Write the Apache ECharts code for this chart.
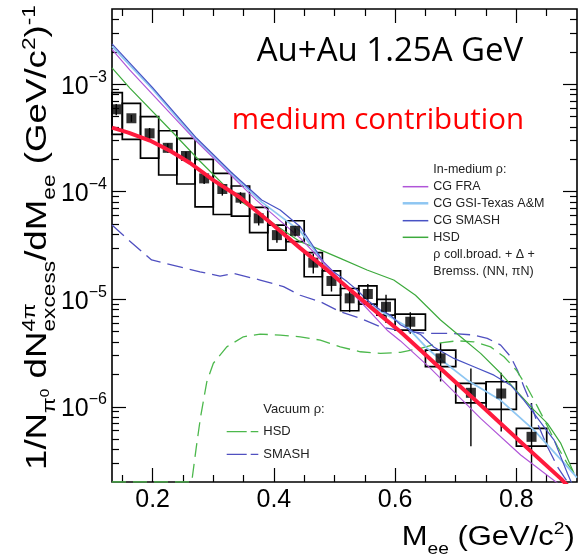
<!DOCTYPE html>
<html>
<head>
<meta charset="utf-8">
<script src="https://cdn.jsdelivr.net/npm/echarts@6/dist/echarts.min.js"></script>
<style>
  html, body { margin: 0; padding: 0; background: #fff; }
  #chart { width: 579px; height: 557px; }
</style>
</head>
<body>
<div id="chart"></div>
<script>
// ---------- measured excess spectrum ----------
const binLow   = [0.13, 0.15, 0.18, 0.21, 0.24, 0.27, 0.30, 0.33, 0.36, 0.39, 0.42, 0.45, 0.48, 0.51, 0.54, 0.57, 0.60, 0.65, 0.70, 0.75, 0.80];
const binHigh  = [0.15, 0.18, 0.21, 0.24, 0.27, 0.30, 0.33, 0.36, 0.39, 0.42, 0.45, 0.48, 0.51, 0.54, 0.57, 0.60, 0.65, 0.70, 0.75, 0.80, 0.85];
const yieldVal = [5.84e-4, 4.82e-4, 3.49e-4, 2.56e-4, 2.15e-4, 1.33e-4, 1.06e-4, 8.8e-5, 5.66e-5, 3.95e-5, 4.33e-5, 2.19e-5, 1.48e-5, 1.02e-5, 1.12e-5, 8.51e-6, 6.18e-6, 2.82e-6, 1.35e-6, 1.33e-6, 5.26e-7];
const statErr  = [7.0e-5, 3.5e-5, 4.2e-5, 2.5e-5, 2.0e-5, 1.5e-5, 1.4e-5, 1.1e-5, 8.0e-6, 6.0e-6, 5.0e-6, 4.5e-6, 3.0e-6, 2.6e-6, 2.7e-6, 2.5e-6, 1.4e-6, 1.1e-6, 9.2e-7, 7.4e-7, 5.6e-7];
const sysLow   = [3.42e-4, 3.07e-4, 2.05e-4, 1.43e-4, 1.18e-4, 7.24e-5, 6.14e-5, 5.94e-5, 4.16e-5, 2.87e-5, 3.43e-5, 1.62e-5, 1.09e-5, 7.82e-6, 9.02e-6, 7.13e-6, 5.16e-6, 2.36e-6, 1.09e-6, 9.46e-7, 4.31e-7];
const sysHigh  = [8.33e-4, 6.64e-4, 4.99e-4, 3.69e-4, 3.14e-4, 2.0e-4, 1.48e-4, 1.13e-4, 7.16e-5, 4.9e-5, 5.37e-5, 2.71e-5, 1.84e-5, 1.26e-5, 1.33e-5, 9.97e-6, 7.28e-6, 3.37e-6, 1.65e-6, 1.71e-6, 6.3e-7];

// ---------- model curves ----------
const mediumMass  = [0.133, 0.16, 0.1955, 0.23, 0.2617, 0.30, 0.3443, 0.39, 0.4435, 0.4850, 0.5261, 0.5670, 0.6088, 0.6749, 0.741, 0.8071, 0.8733, 0.90];
const mediumYield = [3.94e-4, 3.55e-4, 2.99e-4, 2.38e-4, 1.85e-4, 1.28e-4, 8.83e-5, 5.4e-5, 2.99e-5, 1.93e-5, 1.22e-5, 7.8e-6, 4.99e-6, 2.27e-6, 1.04e-6, 4.71e-7, 2.15e-7, 1.5e-7];

const fraMass  = [0.133, 0.1625, 0.2727, 0.3706, 0.4435, 0.5096, 0.5868, 0.6088, 0.6584, 0.741, 0.8071, 0.8733, 0.90];
const fraYield = [2.11e-3, 1.35e-3, 2.92e-4, 8.4e-5, 3.7e-5, 1.51e-5, 5.16e-6, 4.1e-6, 2.28e-6, 7.8e-7, 3.56e-7, 1.85e-7, 1.3e-7];

const gsiMass  = [0.133, 0.20, 0.2727, 0.3306, 0.38, 0.4435, 0.471, 0.4985, 0.5261, 0.5537, 0.5868, 0.6198, 0.6529, 0.6638, 0.719, 0.7741, 0.8291, 0.8843, 0.90];
const gsiYield = [2.25e-3, 9.0e-4, 3.0e-4, 1.45e-4, 8.0e-5, 4.3e-5, 2.67e-5, 1.62e-5, 1.22e-5, 9.16e-6, 7.13e-6, 5.55e-6, 3.5e-6, 3.1e-6, 1.77e-6, 1.15e-6, 6.07e-7, 2.77e-7, 2.2e-7];

const smashMass  = [0.133, 0.20, 0.2727, 0.3306, 0.38, 0.4104, 0.4435, 0.4655, 0.482, 0.4985, 0.5207, 0.5372, 0.5537, 0.5757, 0.5922, 0.6088, 0.6307, 0.6419, 0.6638, 0.6969, 0.7299, 0.763, 0.7906, 0.8126, 0.8291, 0.8456, 0.8622, 0.8843, 0.90];
const smashYield = [2.37e-3, 9.3e-4, 3.14e-4, 1.5e-4, 8.37e-5, 6.76e-5, 4.72e-5, 3.08e-5, 2.23e-5, 1.8e-5, 1.46e-5, 1.22e-5, 9.84e-6, 7.94e-6, 7.13e-6, 5.8e-6, 4.99e-6, 4.7e-6, 3.6e-6, 2.82e-6, 2.36e-6, 1.97e-6, 1.59e-6, 1.15e-6, 8.68e-7, 6.52e-7, 4.9e-7, 2.4e-7, 1.5e-7];

const hsdMass  = [0.133, 0.1625, 0.2286, 0.2782, 0.3443, 0.3774, 0.405, 0.4435, 0.471, 0.5096, 0.5537, 0.5977, 0.6336, 0.6749, 0.708, 0.741, 0.7741, 0.8017, 0.8291, 0.8512, 0.8733, 0.8952];
const hsdYield = [1.42e-3, 9.2e-4, 3.79e-4, 1.92e-4, 8.18e-5, 6.21e-5, 4.8e-5, 3.43e-5, 2.97e-5, 2.4e-5, 1.87e-5, 1.51e-5, 1.09e-5, 6.41e-6, 4.48e-6, 3.14e-6, 2.05e-6, 1.38e-6, 9.31e-7, 7.02e-7, 4.57e-7, 2.4e-7];

const vacSmashMass  = [0.133, 0.1625, 0.1983, 0.2782, 0.3112, 0.3332, 0.3774, 0.4159, 0.4435, 0.4766, 0.5096, 0.5427, 0.5757, 0.6088, 0.6529, 0.6914, 0.7299, 0.752, 0.7741, 0.7906, 0.8017, 0.8126, 0.8237, 0.8347, 0.8512, 0.8678, 0.8787, 0.90];
const vacSmashYield = [4.9e-5, 3.47e-5, 2.32e-5, 1.8e-5, 1.64e-5, 1.74e-5, 1.51e-5, 1.31e-5, 1.09e-5, 9.49e-6, 7.65e-6, 6.64e-6, 5.55e-6, 5.1e-6, 4.82e-6, 4.82e-6, 4.65e-6, 4.33e-6, 3.75e-6, 2.92e-6, 2.19e-6, 1.53e-6, 1.08e-6, 7.02e-7, 4.25e-7, 2.77e-7, 2.23e-7, 1.5e-7];

const vacHsdMass  = [0.133, 0.2645, 0.272, 0.279, 0.2893, 0.3002, 0.3223, 0.3497, 0.3774, 0.4104, 0.4435, 0.4766, 0.5096, 0.5427, 0.5757, 0.6088, 0.6419, 0.6749, 0.7025, 0.7299, 0.7575, 0.7796, 0.80, 0.8175, 0.835, 0.852, 0.868, 0.884, 0.8995];
const vacHsdYield = [0, 0, 4.2e-7, 8.0e-7, 1.7e-6, 2.54e-6, 3.61e-6, 4.48e-6, 4.74e-6, 4.65e-6, 4.48e-6, 4.17e-6, 3.61e-6, 3.25e-6, 3.14e-6, 3.21e-6, 3.5e-6, 3.94e-6, 4.11e-6, 4.02e-6, 3.61e-6, 2.92e-6, 2.19e-6, 1.53e-6, 1.0e-6, 6.5e-7, 4.25e-7, 2.97e-7, 2.23e-7];

// ---------- axes ----------
const massMin = 0.133, massMax = 0.90;
const yMin = 2e-7, yMax = 5e-3;
const xMajor = [0.2, 0.4, 0.6, 0.8];
const xMinor = [0.15, 0.25, 0.3, 0.35, 0.45, 0.5, 0.55, 0.65, 0.7, 0.75, 0.85];
const yMajor = [1e-6, 1e-5, 1e-4, 1e-3];
const yMinor = [];
for (let k = -7; k <= -3; k++) {
  for (let m = 2; m <= 9; m++) {
    const v = m * Math.pow(10, k);
    if (v > yMin && v < yMax) yMinor.push(v);
  }
}

const FONT = "'Liberation Sans', Arial, sans-serif";
const TITLE_FONT = "'Open Sans', sans-serif";
const COLORS = {
  medium: '#ff1a3d', fra: '#b055d8', gsi: '#8ec6f2', smash: '#4852c4',
  hsd: '#3daa3d', vacHsd: '#4cb84c', vacSmash: '#5050c0'
};

// zero yield is drawn on the lower frame
const pairs = (xs, ys) => xs.map((x, i) => [x, ys[i] > 0 ? ys[i] : yMin]);

const chart = echarts.init(document.getElementById('chart'), null, { renderer: 'canvas' });

// text width helper for composed sub/superscript titles
const ctx2d = document.createElement('canvas').getContext('2d');
function measure(t, size, family) { ctx2d.font = size + 'px ' + family; return ctx2d.measureText(t).width; }

function mathText(pieces, S, opts) {
  let cx = 0, stackW = 0;
  const children = [];
  pieces.forEach(p => {
    const size = S * p.k;
    const w = measure(p.t, size, FONT);
    children.push({
      type: 'text', x: cx, y: (p.dy || 0) * S - 0.347 * size,
      style: { text: p.t, fontSize: size, fontFamily: FONT, fill: '#000',
               textAlign: 'left', align: 'left', textVerticalAlign: 'middle', verticalAlign: 'middle' }
    });
    if (p.stack) { stackW = Math.max(stackW, w); }
    else { cx += Math.max(w, stackW); stackW = 0; }
  });
  const sx = opts.length ? opts.length / cx : 1;
  return { type: 'group', x: opts.x, y: opts.y, rotation: opts.rotation || 0, scaleX: sx, children };
}

function label(text, x, y, size, color, family) {
  return { type: 'text', x, y, style: { text, fontSize: size, fontFamily: family || FONT, fill: color || '#222',
    textAlign: 'left', align: 'left', textVerticalAlign: 'middle', verticalAlign: 'middle' } };
}
function swatch(x1, x2, y, color, width, dash) {
  return { type: 'line', shape: { x1, y1: y, x2, y2: y },
    style: { stroke: color, lineWidth: width, lineDash: dash || null } };
}

const yTitle = mathText([
  { t: '1/N', k: 1 },
  { t: 'π', k: 0.62, dy: 0.3 },
  { t: '0', k: 0.42, dy: 0.06 },
  { t: ' dN', k: 1 },
  { t: '4π', k: 0.62, dy: -0.42, stack: true },
  { t: 'excess', k: 0.62, dy: 0.3 },
  { t: '/dM', k: 1 },
  { t: 'ee', k: 0.62, dy: 0.3 },
  { t: ' (GeV/c', k: 1 },
  { t: '2', k: 0.62, dy: -0.42 },
  { t: ')', k: 1 },
  { t: '-1', k: 0.62, dy: -0.42 }
], 29, { x: 48, y: 470, rotation: Math.PI / 2, length: 465 });

const xTitle = mathText([
  { t: 'M', k: 1 },
  { t: 'ee', k: 0.62, dy: 0.3 },
  { t: ' (GeV/c', k: 1 },
  { t: '2', k: 0.62, dy: -0.42 },
  { t: ')', k: 1 }
], 27, { x: 401.7, y: 546.7, length: 173 });

const tickStyle = { color: '#000', width: 1.2 };
function xAxisDef(position, values, len, showLabel) {
  return {
    type: 'value', min: massMin, max: massMax, position,
    axisLine: { show: false }, splitLine: { show: false },
    axisTick: { show: true, inside: true, length: len, customValues: values, lineStyle: tickStyle },
    axisLabel: showLabel
      ? { show: true, customValues: values, color: '#000', fontSize: 25, fontFamily: FONT, margin: 6,
          formatter: v => v.toFixed(1) }
      : { show: false }
  };
}
function yAxisDef(position, values, len, showLabel) {
  return {
    type: 'log', logBase: 10, min: yMin, max: yMax, position,
    axisLine: { show: false }, splitLine: { show: false }, minorTick: { show: false },
    axisTick: { show: true, inside: true, length: len, customValues: values, lineStyle: tickStyle },
    axisLabel: showLabel
      ? { show: true, customValues: values, margin: 5,
          formatter: v => '{b|10}{e|−' + Math.round(-Math.log10(v)) + '}',
          rich: {
            b: { fontSize: 25, fontFamily: FONT, color: '#000', lineHeight: 30, verticalAlign: 'bottom' },
            e: { fontSize: 16, fontFamily: FONT, color: '#000', lineHeight: 20, verticalAlign: 'top' }
          } }
      : { show: false }
  };
}

function lineSeries(name, xs, ys, color, width, dash, z) {
  return {
    name, type: 'line', xAxisIndex: 0, yAxisIndex: 0, data: pairs(xs, ys),
    showSymbol: false, symbol: 'none', smooth: false, clip: true,
    lineStyle: { color, width, type: dash || 'solid', join: 'round' }, z: z || 3, silent: true
  };
}

const boxData = binLow.map((lo, i) => [lo, binHigh[i], sysLow[i], sysHigh[i]]);
const barData = binLow.map((lo, i) => [(lo + binHigh[i]) / 2, Math.max(yieldVal[i] - statErr[i], 1e-9), yieldVal[i] + statErr[i]]);
const pointData = binLow.map((lo, i) => [(lo + binHigh[i]) / 2, yieldVal[i]]);

function plotRect(params) {
  const c = params.coordSys;
  return { x: c.x, y: c.y, width: c.width, height: c.height };
}

const option = {
  animation: false,
  backgroundColor: '#fff',
  grid: { left: 112, right: 2, top: 9, bottom: 75, show: true, borderColor: '#000', borderWidth: 1.6,
          backgroundColor: 'transparent', containLabel: false, outerBoundsMode: 'none' },
  xAxis: [
    xAxisDef('bottom', xMajor, 14, true),
    xAxisDef('bottom', xMinor, 7, false),
    xAxisDef('top', xMajor, 14, false),
    xAxisDef('top', xMinor, 7, false)
  ],
  yAxis: [
    yAxisDef('left', yMajor, 14, true),
    yAxisDef('left', yMinor, 7, false),
    yAxisDef('right', yMajor, 14, false),
    yAxisDef('right', yMinor, 7, false)
  ],
  series: [
    {
      name: 'sys', type: 'custom', xAxisIndex: 0, yAxisIndex: 0, data: boxData, z: 2, silent: true,
      encode: { x: [0, 1], y: [2, 3] },
      renderItem(params, api) {
        const p0 = api.coord([api.value(0), api.value(3)]);
        const p1 = api.coord([api.value(1), api.value(2)]);
        const shape = echarts.graphic.clipRectByRect(
          { x: p0[0], y: p0[1], width: p1[0] - p0[0], height: p1[1] - p0[1] }, plotRect(params));
        return shape && { type: 'rect', shape, style: { fill: 'none', stroke: '#000', lineWidth: 1.7 } };
      }
    },
    {
      name: 'stat', type: 'custom', xAxisIndex: 0, yAxisIndex: 0, data: barData, z: 2, silent: true,
      encode: { x: 0, y: [1, 2] },
      renderItem(params, api) {
        const a = api.coord([api.value(0), api.value(1)]);
        const b = api.coord([api.value(0), api.value(2)]);
        const pts = echarts.graphic.clipPointsByRect([a, b], plotRect(params));
        return { type: 'line', shape: { x1: pts[0][0], y1: pts[0][1], x2: pts[1][0], y2: pts[1][1] },
                 style: { stroke: '#000', lineWidth: 1.4 } };
      }
    },
    {
      name: 'data', type: 'scatter', xAxisIndex: 0, yAxisIndex: 0, data: pointData,
      symbol: 'rect', symbolSize: 10, itemStyle: { color: '#000' }, z: 4, silent: true
    },
    lineSeries('vac SMASH', vacSmashMass, vacSmashYield, COLORS.vacSmash, 1.3, [16, 7], 3),
    lineSeries('vac HSD', vacHsdMass, vacHsdYield, COLORS.vacHsd, 1.3, [14, 7], 3),
    lineSeries('HSD', hsdMass, hsdYield, COLORS.hsd, 1.2, null, 3),
    lineSeries('CG GSI', gsiMass, gsiYield, COLORS.gsi, 1.8, null, 3),
    lineSeries('CG SMASH', smashMass, smashYield, COLORS.smash, 1.2, null, 3),
    lineSeries('CG FRA', fraMass, fraYield, COLORS.fra, 1.2, null, 3),
    lineSeries('medium', mediumMass, mediumYield, COLORS.medium, 4, null, 5)
  ],
  graphic: [
    yTitle,
    xTitle,
    label('Au+Au 1.25A GeV', 256.7, 64.5 - 0.388 * 33, 33, '#000', TITLE_FONT),
    label('medium contribution', 231.7, 132 - 0.388 * 29.5, 29.5, '#ff0000', TITLE_FONT),
    label('In-medium ρ:', 433.3, 169.3, 12.5),
    swatch(402.7, 428.3, 186.7, COLORS.fra, 1.5), label('CG FRA', 433.3, 186.7, 12.5),
    swatch(402.7, 428.3, 203.3, COLORS.gsi, 2.5), label('CG GSI-Texas A&M', 433.3, 203.3, 12.5),
    swatch(402.7, 428.3, 220.7, COLORS.smash, 1.5), label('CG SMASH', 433.3, 220.7, 12.5),
    swatch(402.7, 428.3, 237.3, COLORS.hsd, 1.5), label('HSD', 433.3, 237.3, 12.5),
    label('ρ coll.broad. + Δ +', 433.3, 255, 12.5),
    label('Bremss. (NN, πN)', 433.3, 271.7, 12.5),
    label('Vacuum ρ:', 263.3, 409.3, 13),
    swatch(226.7, 258.3, 431.7, COLORS.vacHsd, 1.3, [20, 4]), label('HSD', 263.3, 431.7, 13),
    swatch(226.7, 258.3, 454.3, COLORS.vacSmash, 1.3, [20, 4]), label('SMASH', 263.3, 454.3, 13)
  ]
};

chart.setOption(option);
</script>
</body>
</html>
